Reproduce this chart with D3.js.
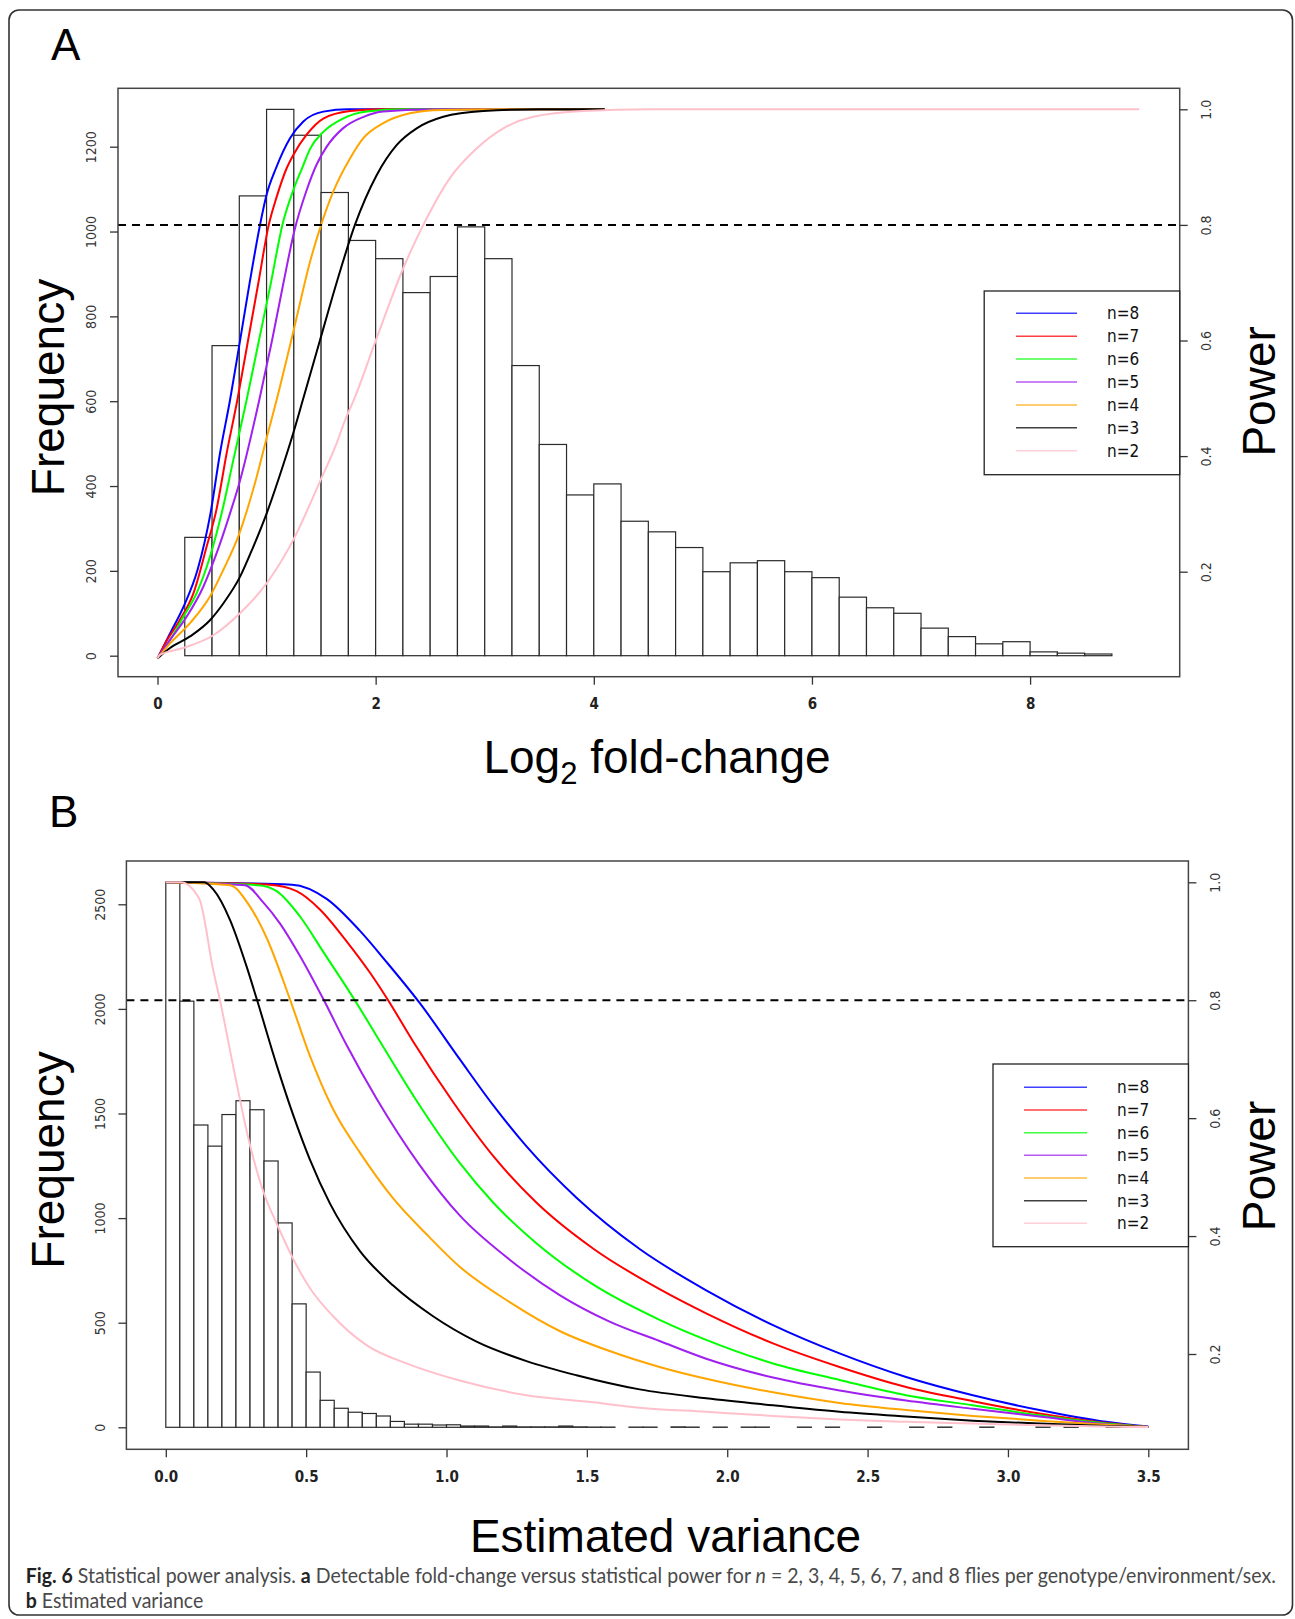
<!DOCTYPE html>
<html><head><meta charset="utf-8">
<script src="https://cdn.jsdelivr.net/npm/d3@7"></script>
<style>body{margin:0;background:#fff}</style>
</head><body>
<svg id="c" width="1295" height="1619"></svg>
<script>
// ---------------- DATA ----------------
const legendLabels = ["n=8","n=7","n=6","n=5","n=4","n=3","n=2"];

// Panel A: histogram of log2 fold-change (bins of 0.25 from 0 to 9)
const histAStart = 0, histAStep = 0.25;
const histA = [0,279,731,1084,1288,1227,1092,979,936,856,894,1011,936,684,498,379,405,317,292,255,
  198,219,224,198,184,138,113,100,65,45,28,33,9,6,4,0];
const xTicksA = [0,2,4,6,8];
const freqTicksA = [0,200,400,600,800,1000,1200];
const powerTicks = [0.2,0.4,0.6,0.8,1.0];
const powerThreshold = 0.8;

// Panel A power curves [log2 fold-change, power]
const powerA_n8 = [[0,0.05],[0.12,0.095],[0.24,0.14],[0.37,0.205],[0.485,0.30],[0.573,0.405],[0.665,0.497],[0.75,0.592],[0.845,0.70],[0.94,0.80],[1.0,0.852],[1.086,0.898],[1.215,0.95],[1.337,0.979],[1.52,0.996],[1.75,1.0],[4.1,1.0]];
const powerA_n7 = [[0,0.05],[0.07,0.076],[0.2,0.115],[0.33,0.163],[0.45,0.243],[0.54,0.307],[0.634,0.405],[0.732,0.497],[0.83,0.60],[0.925,0.70],[1.02,0.80],[1.092,0.848],[1.184,0.898],[1.245,0.921],[1.367,0.956],[1.52,0.984],[1.765,0.997],[2.04,1.0],[4.1,1.0]];
const powerA_n6 = [[0,0.05],[0.115,0.082],[0.237,0.122],[0.359,0.163],[0.481,0.226],[0.588,0.301],[0.695,0.393],[0.817,0.497],[0.93,0.60],[1.04,0.70],[1.145,0.80],[1.245,0.86],[1.33,0.90],[1.40,0.932],[1.52,0.961],[1.70,0.984],[1.92,0.996],[2.25,1.0],[4.1,1.0]];
const powerA_n5 = [[0,0.05],[0.115,0.082],[0.267,0.122],[0.42,0.174],[0.542,0.232],[0.665,0.301],[0.75,0.353],[0.933,0.497],[1.05,0.60],[1.155,0.70],[1.255,0.79],[1.367,0.86],[1.46,0.905],[1.55,0.935],[1.70,0.967],[1.89,0.987],[2.07,0.996],[2.56,1.0],[4.1,1.0]];
const powerA_n4 = [[0,0.05],[0.115,0.076],[0.298,0.111],[0.481,0.157],[0.603,0.203],[0.75,0.266],[0.909,0.364],[1.0,0.431],[1.092,0.497],[1.245,0.615],[1.398,0.736],[1.50,0.80],[1.612,0.858],[1.765,0.915],[1.887,0.95],[2.07,0.976],[2.314,0.993],[2.6,0.999],[3.14,1.0],[4.1,1.0]];
const powerA_n3 = [[0,0.05],[0.115,0.068],[0.298,0.088],[0.481,0.116],[0.603,0.145],[0.756,0.191],[0.878,0.243],[1.001,0.301],[1.153,0.385],[1.245,0.44],[1.337,0.50],[1.489,0.60],[1.642,0.70],[1.81,0.80],[2.009,0.886],[2.192,0.938],[2.376,0.967],[2.62,0.987],[2.987,0.997],[3.5,1.0],[4.1,1.0]];
const powerA_n2 = [[0,0.05],[0.023,0.056],[0.237,0.068],[0.512,0.09],[0.756,0.128],[1.001,0.18],[1.245,0.255],[1.489,0.356],[1.642,0.422],[1.719,0.462],[1.795,0.495],[2.009,0.604],[2.253,0.725],[2.437,0.80],[2.681,0.881],[2.925,0.932],[3.17,0.967],[3.445,0.987],[3.903,0.997],[4.514,1.0],[9.0,1.0]];

// Panel B: histogram of estimated variance (bins of 0.05 from 0 to 3.45)
const histBStart = 0, histBStep = 0.05;
const histB = [2604,2037,1445,1344,1495,1561,1518,1273,977,590,264,129,91,72,66,54,28,15,15,11,
  12,6,6,2,6,2,2,2,6,2,1,1,0,1,1,0,2,1,0,1,0,1,1,0,0,1,0,1,0,0,1,0,0,1,0,1,0,0,1,0,0,0,1,0,1,0,0,1,0];
const xTicksB = [0,0.5,1.0,1.5,2.0,2.5,3.0,3.5];
const freqTicksB = [0,500,1000,1500,2000,2500];

// Panel B power curves [estimated variance, power]
const powerB_n8 = [[0,1.0],[0.45,0.996],[0.573,0.972],[0.691,0.918],[0.786,0.865],[0.905,0.795],[1.047,0.70],[1.166,0.622],[1.285,0.552],[1.463,0.465],[1.688,0.378],[1.925,0.308],[2.163,0.249],[2.4,0.201],[2.637,0.161],[2.875,0.13],[3.112,0.105],[3.349,0.085],[3.5,0.077]];
const powerB_n7 = [[0,1.0],[0.37,0.996],[0.466,0.985],[0.549,0.954],[0.644,0.90],[0.727,0.847],[0.792,0.80],[0.881,0.73],[1.024,0.627],[1.166,0.536],[1.32,0.457],[1.522,0.379],[1.759,0.31],[1.925,0.269],[2.163,0.218],[2.4,0.178],[2.637,0.144],[2.875,0.12],[3.112,0.099],[3.349,0.083],[3.5,0.076]];
const powerB_n6 = [[0,1.0],[0.33,0.995],[0.395,0.985],[0.478,0.942],[0.561,0.882],[0.68,0.795],[0.763,0.73],[0.905,0.621],[1.047,0.524],[1.166,0.457],[1.32,0.388],[1.522,0.318],[1.759,0.258],[1.925,0.224],[2.163,0.184],[2.4,0.156],[2.637,0.13],[2.875,0.113],[3.112,0.096],[3.349,0.082],[3.5,0.076]];
const powerB_n5 = [[0,1.0],[0.282,0.995],[0.347,0.966],[0.407,0.93],[0.478,0.875],[0.561,0.802],[0.644,0.724],[0.751,0.633],[0.905,0.52],[1.047,0.435],[1.225,0.36],[1.403,0.30],[1.581,0.255],[1.759,0.222],[1.925,0.192],[2.163,0.16],[2.4,0.138],[2.637,0.121],[2.875,0.107],[3.112,0.094],[3.349,0.081],[3.5,0.076]];
const powerB_n4 = [[0,1.0],[0.229,0.995],[0.294,0.963],[0.359,0.906],[0.442,0.802],[0.513,0.706],[0.596,0.615],[0.691,0.542],[0.81,0.464],[0.929,0.403],[1.047,0.348],[1.225,0.288],[1.403,0.239],[1.581,0.205],[1.759,0.178],[1.925,0.158],[2.163,0.135],[2.4,0.117],[2.637,0.105],[2.875,0.095],[3.112,0.087],[3.349,0.08],[3.5,0.076]];
const powerB_n3 = [[0,1.0],[0.137,1.0],[0.169,0.988],[0.229,0.936],[0.288,0.857],[0.324,0.802],[0.395,0.69],[0.454,0.605],[0.513,0.53],[0.585,0.455],[0.691,0.375],[0.81,0.316],[0.952,0.264],[1.107,0.221],[1.285,0.188],[1.463,0.164],[1.688,0.14],[1.925,0.125],[2.163,0.113],[2.4,0.102],[2.637,0.094],[2.875,0.087],[3.112,0.082],[3.349,0.078],[3.5,0.076]];
const powerB_n2 = [[0,1.0],[0.053,1.0],[0.119,0.972],[0.169,0.851],[0.193,0.80],[0.24,0.688],[0.30,0.554],[0.347,0.476],[0.401,0.415],[0.454,0.361],[0.513,0.312],[0.596,0.264],[0.715,0.215],[0.869,0.182],[1.047,0.155],[1.285,0.13],[1.522,0.118],[1.688,0.109],[1.925,0.102],[2.163,0.095],[2.4,0.089],[2.637,0.085],[2.875,0.082],[3.112,0.079],[3.5,0.076]];

// ---------------- STYLE ----------------
const curveColors = ["#0000FF","#FF0000","#00FF00","#A020F0","#FFA500","#000000","#FFC0CB"];
const narrow = "'Liberation Sans Narrow','Arial Narrow','DejaVu Sans Condensed',sans-serif";
const sans = "'Liberation Sans',Arial,Helvetica,sans-serif";

const svg = d3.select("#c");
svg.append("rect").attr("width",1295).attr("height",1619).attr("fill","#fff");
svg.append("rect").attr("x",9).attr("y",10).attr("width",1283.5).attr("height",1605)
  .attr("rx",10).attr("fill","none").attr("stroke","#333").attr("stroke-width",1.6);

function panel(cfg){
  const g = svg.append("g");
  const {box} = cfg;
  const x = d3.scaleLinear().domain(cfg.xDom).range(cfg.xRange);
  const f = d3.scaleLinear().domain(cfg.fDom).range(cfg.fRange);
  const p = d3.scaleLinear().domain([0.2,1.0]).range(cfg.pRange);

  // histogram
  g.append("g").selectAll("rect").data(cfg.hist).join("rect")
    .attr("x",(d,i)=>x(cfg.hStart+i*cfg.hStep))
    .attr("width",(d,i)=>x(cfg.hStart+(i+1)*cfg.hStep)-x(cfg.hStart+i*cfg.hStep))
    .attr("y",d=>f(d)).attr("height",d=>f(0)-f(d))
    .attr("fill","#fff").attr("stroke","#2a2a2a").attr("stroke-width",1.2);

  // curves
  const line = d3.line().x(d=>x(d[0])).y(d=>p(d[1])).curve(d3.curveMonotoneX);
  g.append("g").selectAll("path").data(cfg.curves).join("path")
    .attr("d",line).attr("fill","none")
    .attr("stroke",(d,i)=>curveColors[i]).attr("stroke-width",2).attr("stroke-linejoin","round");

  // threshold
  g.append("line").attr("x1",box.x0).attr("x2",box.x1)
    .attr("y1",p(powerThreshold)).attr("y2",p(powerThreshold))
    .attr("stroke","#000").attr("stroke-width",2).attr("stroke-dasharray","8,6");

  // plot box
  g.append("rect").attr("x",box.x0).attr("y",box.y0).attr("width",box.x1-box.x0).attr("height",box.y1-box.y0)
    .attr("fill","none").attr("stroke","#444").attr("stroke-width",1.5);

  // legend
  const L = cfg.legend;
  const lg = g.append("g");
  lg.append("rect").attr("x",L.x0).attr("y",L.y0).attr("width",box.x1-L.x0).attr("height",L.y1-L.y0)
    .attr("fill","#fff").attr("stroke","#222").attr("stroke-width",1.3);
  legendLabels.forEach((t,i)=>{
    const yy = L.row0 + i*L.dy;
    lg.append("line").attr("x1",L.lx0).attr("x2",L.lx1).attr("y1",yy).attr("y2",yy)
      .attr("stroke",curveColors[i]).attr("stroke-width",1.5).attr("stroke-opacity",0.75);
    lg.append("text").attr("x",L.tx).attr("y",yy).attr("dominant-baseline","central")
      .attr("font-family",narrow).attr("font-size",17).attr("fill","#111").text(t);
  });

  // axes
  const gx = g.append("g").attr("transform",`translate(0,${box.y1})`)
    .call(d3.axisBottom(x).tickValues(cfg.xTicks).tickFormat(cfg.xFmt).tickSize(8));
  gx.select(".domain").remove();
  gx.selectAll(".tick line").attr("stroke","#333").attr("stroke-width",1.3);
  gx.selectAll(".tick text").attr("y",27).attr("dy","0.35em")
    .attr("font-family",narrow).attr("font-size",15).attr("font-weight","bold").attr("fill","#222");

  const gl = g.append("g").attr("transform",`translate(${box.x0},0)`)
    .call(d3.axisLeft(f).tickValues(cfg.fTicks).tickFormat(d3.format("d")).tickSize(8));
  gl.select(".domain").remove();
  gl.selectAll(".tick line").attr("stroke","#333").attr("stroke-width",1.3);
  gl.selectAll(".tick text").attr("transform","rotate(-90)").attr("x",0).attr("y",-cfg.lOff).attr("dy",null)
    .attr("text-anchor","middle").attr("dominant-baseline","central")
    .attr("font-family",narrow).attr("font-size",14).attr("fill","#333");

  const gr = g.append("g").attr("transform",`translate(${box.x1},0)`)
    .call(d3.axisRight(p).tickValues(powerTicks).tickFormat(d3.format(".1f")).tickSize(8));
  gr.select(".domain").remove();
  gr.selectAll(".tick line").attr("stroke","#333").attr("stroke-width",1.3);
  gr.selectAll(".tick text").attr("transform","rotate(-90)").attr("x",0).attr("y",26.5).attr("dy",null)
    .attr("text-anchor","middle").attr("dominant-baseline","central")
    .attr("font-family",narrow).attr("font-size",14).attr("fill","#333");

  // titles
  g.append("text").attr("transform",`translate(64,${cfg.freqY}) rotate(-90)`).attr("text-anchor","middle")
    .attr("font-family",sans).attr("font-size",46).attr("fill","#000").text("Frequency");
  g.append("text").attr("transform",`translate(1275,${cfg.powY}) rotate(-90)`).attr("text-anchor","middle")
    .attr("font-family",sans).attr("font-size",46).attr("fill","#000").text("Power");
  const xt = g.append("text").attr("x",cfg.xtX).attr("y",cfg.xtY).attr("text-anchor","middle")
    .attr("font-family",sans).attr("font-size",46).attr("fill","#000");
  cfg.xTitle(xt);
  g.append("text").attr("x",cfg.letterX).attr("y",cfg.letterY)
    .attr("font-family",sans).attr("font-size",44).attr("fill","#000").text(cfg.letter);
}

panel({
  box:{x0:118,y0:88.3,x1:1179.7,y1:676.7},
  xDom:[0,8], xRange:[157.5,1030.1],
  fDom:[0,1200], fRange:[655.7,146.7],
  pRange:[571.7,109.3],
  hist:histA, hStart:histAStart, hStep:histAStep,
  curves:[powerA_n8,powerA_n7,powerA_n6,powerA_n5,powerA_n4,powerA_n3,powerA_n2],
  xTicks:xTicksA, xFmt:d3.format("d"), fTicks:freqTicksA, lOff:27.5,
  legend:{x0:984.2,y0:291,y1:474.7,lx0:1016,lx1:1077,tx:1107,row0:313.3,dy:22.9},
  freqY:387.5, powY:391.4, xtX:657, xtY:773,
  xTitle:(t)=>{ t.append("tspan").text("Log");
    t.append("tspan").attr("font-size",31).attr("dy",11).text("2");
    t.append("tspan").attr("dy",-11).text("\u00a0fold-change"); },
  letter:"A", letterX:51, letterY:60
});

panel({
  box:{x0:126.4,y0:861,x1:1188.4,y1:1449.3},
  xDom:[0,3.5], xRange:[165.8,1148.3],
  fDom:[0,2500], fRange:[1427.3,904.3],
  pRange:[1354,882.3],
  hist:histB, hStart:histBStart, hStep:histBStep,
  curves:[powerB_n8,powerB_n7,powerB_n6,powerB_n5,powerB_n4,powerB_n3,powerB_n2],
  xTicks:xTicksB, xFmt:d3.format(".1f"), fTicks:freqTicksB, lOff:26,
  legend:{x0:993,y0:1064,y1:1246.7,lx0:1024,lx1:1087,tx:1117,row0:1087.3,dy:22.67},
  freqY:1160, powY:1166, xtX:665.5, xtY:1551.7,
  xTitle:(t)=>{ t.text("Estimated variance"); },
  letter:"B", letterX:49, letterY:827
});

// caption
const capFont = "Lato,'Open Sans','Noto Sans',sans-serif";
const cap1 = svg.append("text").attr("font-family",capFont).attr("font-size",20.5).attr("fill","#4a4a4a");
[["Fig. 6","b"],[" Statistical power analysis. ",""],["a","b"],[" Detectable fold-change versus statistical power for ",""],
 ["n","i"],[" = 2, 3, 4, 5, 6, 7, and 8 flies per genotype/environment/sex.",""]].forEach(([t,s])=>{
  const ts = cap1.append("tspan").text(t);
  if(s==="b") ts.attr("font-weight","bold").attr("fill","#222");
  if(s==="i") ts.attr("font-style","italic");
});
const cap2 = svg.append("text").attr("font-family",capFont).attr("font-size",20.5).attr("fill","#4a4a4a");
cap2.append("tspan").attr("font-weight","bold").attr("fill","#222").text("b");
cap2.append("tspan").text(" Estimated variance");
const w1 = cap1.node().getComputedTextLength();
const k = 1251 / w1;
cap1.attr("transform",`translate(25.7,1583) scale(${k},1)`);
cap2.attr("transform",`translate(25.7,1608.3) scale(${k},1)`);
</script>
</body></html>
